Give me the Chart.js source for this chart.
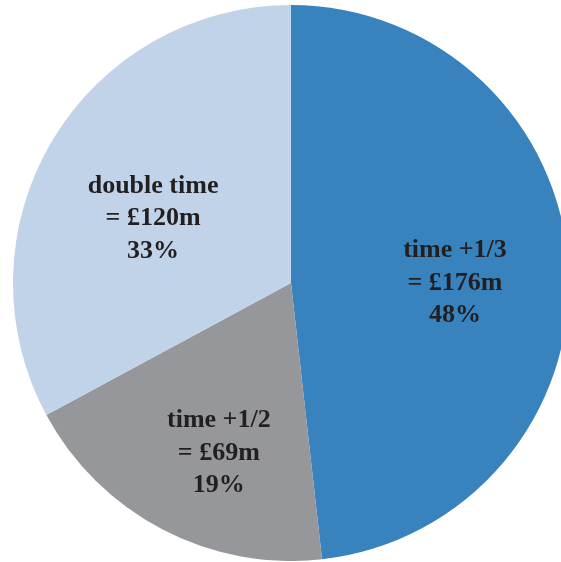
<!DOCTYPE html>
<html>
<head>
<meta charset="utf-8">
<script src="https://cdn.jsdelivr.net/npm/chart.js@4"></script>
<style>
  html, body { margin: 0; padding: 0; background: #fff; overflow: hidden; }
  #wrap { position: absolute; left: 0; top: 5px; }
</style>
</head>
<body>
<div id="wrap"><canvas id="myChart" width="582" height="556"></canvas></div>
<script>
'use strict';
// data
const categories = ['time +1/3', 'time +1/2', 'double time'];
const valuesM = [176, 69, 120];
const colours = ['#3883be', '#96979b', '#c0d3e8'];

// label placement per slice: [radius ratio, angle nudge in degrees]
const labelPlace = [[0.59, 3.2], [0.664, -4.6], [0.548, -5.7]];

const total = valuesM.reduce((a, b) => a + b, 0);

const sliceLabels = {
    id: 'sliceLabels',
    afterDatasetsDraw(chart) {
        const ctx = chart.ctx;
        const meta = chart.getDatasetMeta(0);
        ctx.save();
        ctx.font = 'bold 26px "Liberation Serif", "Times New Roman", serif';
        ctx.fillStyle = '#231f20';
        ctx.textAlign = 'center';
        ctx.textBaseline = 'middle';
        meta.data.forEach((arc, i) => {
            const p = arc.getProps(['x', 'y', 'startAngle', 'endAngle', 'outerRadius'], true);
            const mid = (p.startAngle + p.endAngle) / 2 + labelPlace[i][1] * Math.PI / 180;
            const r = p.outerRadius * labelPlace[i][0];
            const x = p.x + Math.cos(mid) * r;
            const y = p.y + Math.sin(mid) * r;
            const pct = Math.round(valuesM[i] / total * 100);
            const lines = [categories[i], '= £' + valuesM[i] + 'm', pct + '%'];
            lines.forEach((t, k) => {
                ctx.fillText(t, x, y + (k - 1) * 32.5);
            });
        });
        ctx.restore();
    }
};

const ctx = document.getElementById('myChart');
const myChart = new Chart(ctx.getContext('2d'), {
    type: 'pie',
    data: {
        labels: categories,
        datasets: [{
            data: valuesM,
            backgroundColor: colours,
            borderWidth: 0
        }]
    },
    options: {
        responsive: false,
        animation: false,
        layout: { padding: 0 },
        plugins: {
            legend: { display: false },
            tooltip: { enabled: false }
        }
    },
    plugins: [sliceLabels]
});
</script>
</body>
</html>
